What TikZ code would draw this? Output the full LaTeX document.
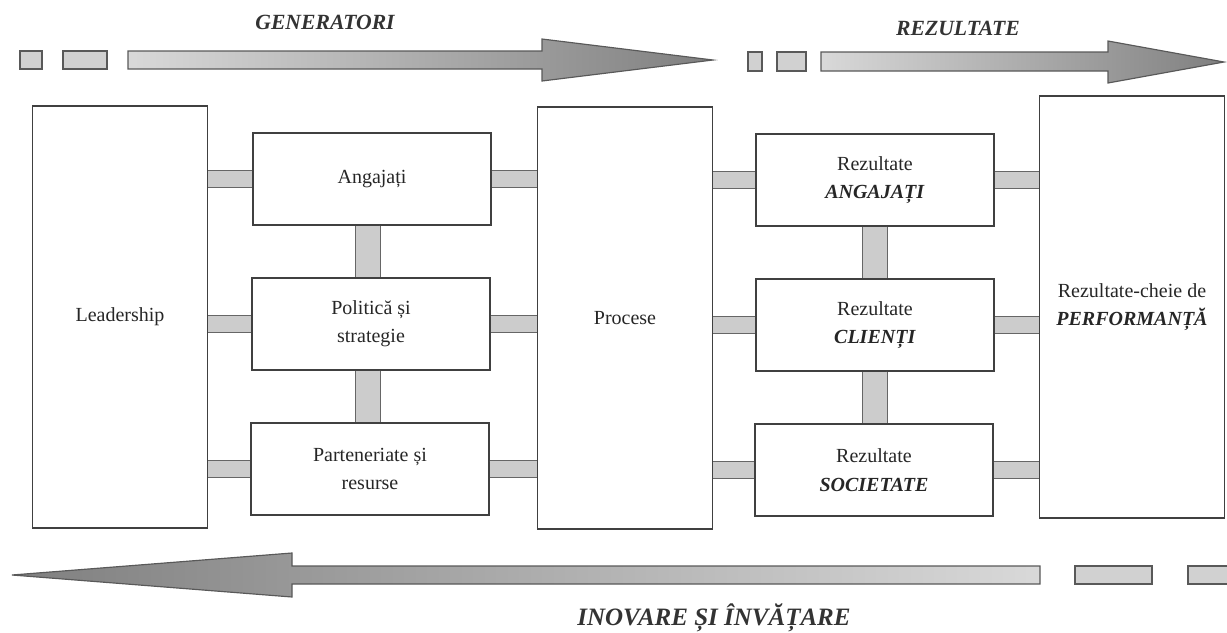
\documentclass[tikz,border=0pt]{standalone}
\usepackage{fontspec}
\setmainfont{Liberation Serif}
\usetikzlibrary{positioning}
\newcommand{\bi}[1]{\textbf{\textit{#1}}}

\begin{document}
\begin{tikzpicture}[x=0.6pt,y=-0.6pt,
              txt/.style={font=\fontsize{12}{17}\selectfont, align=center, text=black!85},
              tallbox/.style={draw=black!75, line width=0.8pt, txt, inner sep=0pt, minimum width=105pt, minimum height=253.2pt},
              midbox/.style={draw=black!75, line width=0.8pt, txt, inner sep=0pt, minimum width=142.8pt, minimum height=55.2pt},
              hbar/.style={draw=black!60, line width=0.6pt, double=black!20, double distance=9.6pt},
              vbar/.style={draw=black!60, line width=0.6pt, double=black!20, double distance=14.4pt},
              bigarrow/.style={draw=black!65, line width=0.7pt},
              dashbox/.style={draw=black!65, line width=0.7pt, fill=black!18},
              title/.style={font=\fontsize{13}{15}\selectfont\bfseries\itshape, text=black!80},
             ]
\useasboundingbox (0,0) rectangle (1227,632);

\node[tallbox] (lead) at (120,317) {Leadership};
\node[midbox] (ang) at (372,179) {Angajați};
\node[midbox] (pol) at (371,324) {Politică și\\strategie};
\node[midbox] (part) at (370,469) {Parteneriate și\\resurse};
\node[tallbox] (proc) at (625,318) {Procese};
\node[midbox] (rang) at (875,180) {Rezultate\\\bi{ANGAJAȚI}};
\node[midbox] (rcli) at (875,325) {Rezultate\\\bi{CLIENȚI}};
\node[midbox] (rsoc) at (874,470) {Rezultate\\\bi{SOCIETATE}};
\node[tallbox, minimum width=111pt] (perf) at (1132,307) {Rezultate-cheie de\\\bi{PERFORMANȚĂ}};

\foreach \m in {ang,pol,part} {
  \draw[hbar] (lead.east |- \m.west) -- (\m.west);
  \draw[hbar] (\m.east) -- (proc.west |- \m.east);
}
\foreach \m in {rang,rcli,rsoc} {
  \draw[hbar] (proc.east |- \m.west) -- (\m.west);
  \draw[hbar] (\m.east) -- (perf.west |- \m.east);
}
\draw[vbar] ([xshift=-2.4pt]ang.south) -- ([xshift=-2.4pt]ang.south |- pol.north);
\draw[vbar] ([xshift=-1.8pt]pol.south) -- ([xshift=-1.8pt]pol.south |- part.north);
\draw[vbar] (rang.south) -- (rang.south |- rcli.north);
\draw[vbar] (rcli.south) -- (rcli.south |- rsoc.north);

\draw[dashbox] (20,51) rectangle (42,69);
\draw[dashbox] (63,51) rectangle (107,69);
\shadedraw[bigarrow, left color=black!15, right color=black!50] (128,51) -- (542,51) -- (542,39) -- (713,60) -- (542,81) -- (542,69) -- (128,69) -- cycle;
\draw[dashbox] (748,52) rectangle (762,71);
\draw[dashbox] (777,52) rectangle (806,71);
\shadedraw[bigarrow, left color=black!15, right color=black!50] (821,52) -- (1108,52) -- (1108,41) -- (1224,62) -- (1108,83) -- (1108,71) -- (821,71) -- cycle;
\shadedraw[bigarrow, right color=black!15, left color=black!50] (1040,566) -- (292,566) -- (292,553) -- (12,575) -- (292,597) -- (292,584) -- (1040,584) -- cycle;
\draw[dashbox] (1075,566) rectangle (1152,584);
\draw[dashbox] (1188,566) rectangle (1240,584);

\node[title] (gen) at (325,22) {GENERATORI};
\node[title] (rez) at (958,28) {REZULTATE};
\node[title, font=\fontsize{15}{17}\selectfont\bfseries\itshape] (inv) at (714,618) {INOVARE ȘI ÎNVĂȚARE};
\end{tikzpicture}
\end{document}
